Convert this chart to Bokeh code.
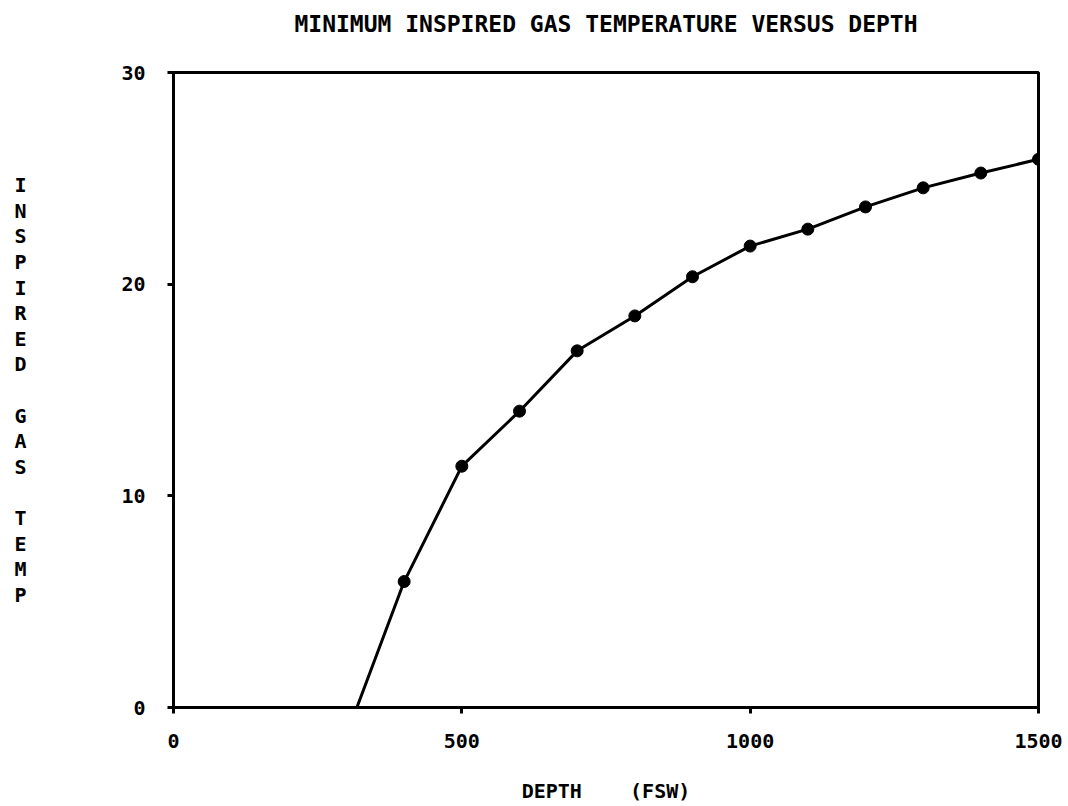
from bokeh.plotting import figure
from bokeh.models import FixedTicker, Range1d
from bokeh.embed import file_html
from bokeh.resources import INLINE

# Data
depth = [400, 500, 600, 700, 800, 900, 1000, 1100, 1200, 1300, 1400, 1500]
temp = [5.95, 11.4, 14.0, 16.85, 18.5, 20.35, 21.8, 22.6, 23.65, 24.55, 25.25, 25.9]
zero_depth = 318  # where the curve meets 0 degrees
x_ticks = [0, 500, 1000, 1500]
y_ticks = [0, 10, 20, 30]

title_text = "MINIMUM INSPIRED GAS TEMPERATURE VERSUS DEPTH"
x_label = "DEPTH\u00a0\u00a0\u00a0\u00a0(FSW)"
y_label_words = ["INSPIRED", "GAS", "TEMP"]

FONT = "DejaVu Sans Mono"

p = figure(width=1068, height=806, output_backend="svg", toolbar_location=None,
           x_range=Range1d(0, 1500), y_range=Range1d(0, 30),
           min_border_left=173, min_border_right=30, min_border_top=72,
           min_border_bottom=99, title=title_text + "\n")
p.background_fill_color = "white"
p.border_fill_color = "white"
p.grid.visible = False
p.outline_line_color = "black"
p.outline_line_width = 3

p.title.text_font = FONT
p.title.text_font_style = "bold"
p.title.text_font_size = "23px"
p.title.text_color = "black"
p.title.align = "center"
p.title.vertical_align = "top"
p.title.standoff = 16

for ax in (p.xaxis[0], p.yaxis[0]):
    ax.axis_line_width = 3
    ax.axis_line_color = "black"
    ax.major_tick_line_width = 3
    ax.major_tick_out = 6
    ax.major_tick_in = 0
    ax.minor_tick_out = 0
    ax.minor_tick_in = 0
    ax.major_label_text_font = FONT
    ax.major_label_text_font_style = "bold"
    ax.major_label_text_font_size = "20px"
    ax.major_label_text_color = "black"
    ax.axis_label_text_font = FONT
    ax.axis_label_text_font_style = "bold"
    ax.axis_label_text_font_size = "20px"
    ax.axis_label_text_color = "black"

p.xaxis.ticker = FixedTicker(ticks=x_ticks)
p.yaxis.ticker = FixedTicker(ticks=y_ticks)
p.xaxis.major_label_standoff = 20
p.yaxis.major_label_standoff = 22

p.xaxis.axis_label = x_label
p.xaxis.axis_label_standoff = 28

y_lines = []
for i, w in enumerate(y_label_words):
    if i:
        y_lines.append("")
    y_lines.extend(list(w))
p.yaxis.axis_label = "\n".join(y_lines)
p.yaxis.axis_label_orientation = "horizontal"
p.yaxis.axis_label_standoff = 92
p.yaxis.axis_label_text_line_height = 1.067

line_x = [zero_depth] + depth
line_y = [0] + temp
p.line(line_x, line_y, line_color="black", line_width=3)
p.scatter(depth, temp, size=12, fill_color="black", line_color="black")

open("out.html", "w").write(file_html(p, INLINE))
